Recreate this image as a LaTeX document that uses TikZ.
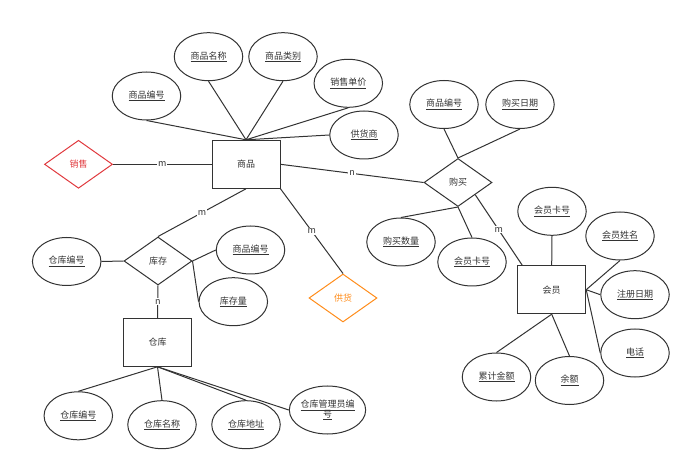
\documentclass[tikz,border=0pt]{standalone}
\usepackage{fontspec}
\newfontfamily\cjk{Noto Sans CJK SC}
\usetikzlibrary{shapes.geometric,calc}
\definecolor{ln}{HTML}{333333}
\definecolor{txt}{HTML}{333333}
\definecolor{redc}{HTML}{E0393E}
\definecolor{orc}{HTML}{FF8C1A}
\tikzset{
  every node/.style={font=\cjk\fontsize{9}{10.5}\selectfont, text=txt},
  attr/.style={draw=ln, line width=1pt, ellipse, minimum width=68.5pt, minimum height=48pt, inner sep=0pt, align=center},
  entity/.style={draw=ln, line width=1pt, rectangle, minimum width=68pt, minimum height=48pt, inner sep=0pt},
  rel/.style={draw=ln, line width=1pt, diamond, minimum width=68pt, minimum height=48pt, inner sep=0pt},
  conn/.style={draw=ln, line width=1pt},
  card/.style={fill=white, inner sep=1pt, font=\cjk\fontsize{9}{10}\selectfont},
}
\begin{document}
\begin{tikzpicture}[x=1pt,y=-1pt]
\useasboundingbox (0,0) rectangle (691,470);
% entities
\node[entity] (shp) at (246,164.3) {商品};
\node[entity] (wh) at (157.5,342.3) {仓库};
\node[entity] (mem) at (551.7,289.7) {会员};
% relations
\node[rel, draw=redc, text=redc] (sale) at (78.5,164.3) {销售};
\node[rel] (buy) at (458,182.5) {购买};
\node[rel] (stock) at (158,261) {库存};
\node[rel, draw=orc, text=orc] (supply) at (343,298) {供货};
% goods attributes
\node[attr] (g1) at (146.5,96) {\underline{商品编号}};
\node[attr] (g2) at (208.5,56.7) {\underline{商品名称}};
\node[attr] (g3) at (283,56.7) {\underline{商品类别}};
\node[attr] (g4) at (348.3,83.3) {\underline{销售单价}};
\node[attr] (g5) at (364,135) {\underline{供货商}};
% buy attributes
\node[attr] (b1) at (444,104.5) {\underline{商品编号}};
\node[attr] (b2) at (520,104.5) {\underline{购买日期}};
\node[attr] (b3) at (401,242) {\underline{购买数量}};
\node[attr] (b4) at (472,262) {\underline{会员卡号}};
% member attributes
\node[attr] (m1) at (552,211.3) {\underline{会员卡号}};
\node[attr] (m2) at (620,236) {\underline{会员姓名}};
\node[attr] (m3) at (635,294.7) {\underline{注册日期}};
\node[attr] (m4) at (635,353) {\underline{电话}};
\node[attr] (m5) at (496.5,377) {\underline{累计金额}};
\node[attr] (m6) at (569.5,380.5) {\underline{余额}};
% stock attributes
\node[attr] (s1) at (66.7,261.5) {\underline{仓库编号}};
\node[attr] (s2) at (250.5,250) {\underline{商品编号}};
\node[attr] (s3) at (233.3,301.7) {\underline{库存量}};
% warehouse attributes
\node[attr] (w1) at (78.3,415.8) {\underline{仓库编号}};
\node[attr] (w2) at (162,424.7) {\underline{仓库名称}};
\node[attr] (w3) at (246,424.7) {\underline{仓库地址}};
\node[attr] (w4) at (327.5,410) {\underline{仓库管理员编}\\[-1pt]\underline{号}};
% attribute connectors
\draw[conn] (g1.south) -- (shp.north);
\draw[conn] (g2.south) -- (shp.north);
\draw[conn] (g3.south) -- (shp.north);
\draw[conn] (g4.south) -- (shp.north);
\draw[conn] (g5.west) -- (shp.north);
\draw[conn] (b1.south) -- (buy.north);
\draw[conn] (b2.south) -- (buy.north);
\draw[conn] (b3.north) -- (buy.south);
\draw[conn] (b4.north) -- (buy.south);
\draw[conn] (m1.south) -- (mem.north);
\draw[conn] (m2.south) -- (mem.east);
\draw[conn] (m3.west) -- (mem.east);
\draw[conn] (m4.west) -- (mem.east);
\draw[conn] (m5.north) -- (mem.south);
\draw[conn] (m6.north) -- (mem.south);
\draw[conn] (s1.east) -- (stock.west);
\draw[conn] (stock.east) -- (s2.west);
\draw[conn] (stock.east) -- (s3.west);
\draw[conn] (wh.south) -- (w1.north);
\draw[conn] (wh.south) -- (w2.north);
\draw[conn] (wh.south) -- (w3.north);
\draw[conn] (wh.south) -- (w4.west);
% relationship connectors
\draw[conn] (sale.east) -- node[card] {m} (shp.west);
\draw[conn] (shp.east) -- node[card] {n} (buy.west);
\draw[conn] (buy.south east) -- node[card] {m} ($(mem.north west)+(5,0)$);
\draw[conn] (stock.north) -- node[card] {m} (shp.south);
\draw[conn] (shp.south east) -- node[card] {m} (supply.north);
\draw[conn] (stock.south) -- node[card] {n} (wh.north);
\end{tikzpicture}
\end{document}
